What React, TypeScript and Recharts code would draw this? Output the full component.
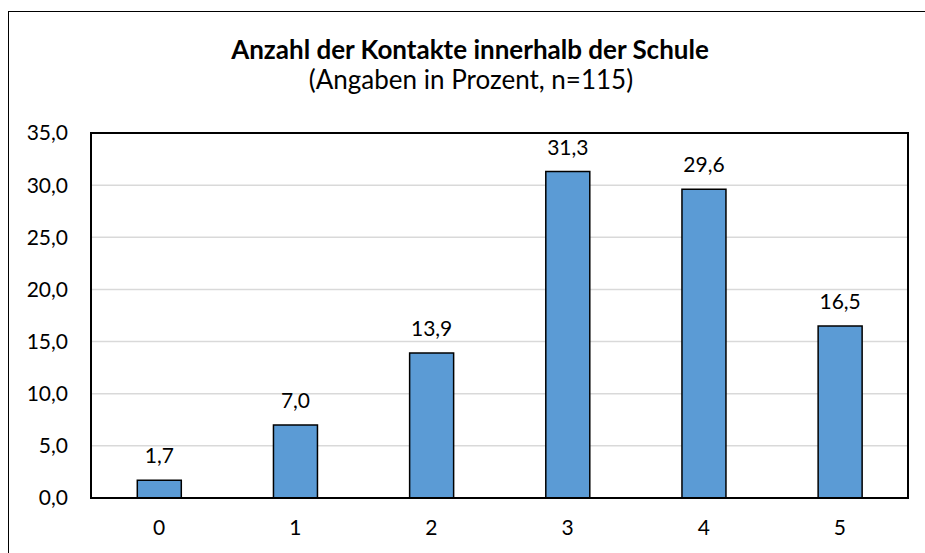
import { Bar, BarChart, CartesianGrid, LabelList, XAxis, YAxis } from 'recharts';

const categories = ['0', '1', '2', '3', '4', '5'];
const shares = [1.7, 7.0, 13.9, 31.3, 29.6, 16.5];
const yTicks = [0, 5, 10, 15, 20, 25, 30, 35];

const data = categories.map((kontakte, i) => ({ kontakte, anteil: shares[i] }));

const FONT = 'Lato, "Open Sans", sans-serif';
const fmt = (v: number) => v.toFixed(1).replace('.', ',');

export default function App() {
  return (
    <div style={{ position: 'absolute', left: 0, top: 0, width: 925, height: 553, overflow: 'hidden', background: '#fff', fontFamily: FONT }}>
      {/* outer chart frame, only left and top edges fall inside the picture */}
      <div
        style={{
          position: 'absolute',
          left: 8,
          top: 11,
          width: 917,
          height: 542,
          borderTop: '1.5px solid #000',
          borderLeft: '1.5px solid #000',
          boxSizing: 'border-box'
        }}
      />
      <div style={{ position: 'absolute', left: 0, width: 940, top: 33, textAlign: 'center', fontSize: 26, fontWeight: 700, color: '#000' }}>
        Anzahl der Kontakte innerhalb der Schule
      </div>
      <div style={{ position: 'absolute', left: 0, width: 942, top: 63, textAlign: 'center', fontSize: 26, color: '#000' }}>
        (Angaben in Prozent, n=115)
      </div>
      <div style={{ position: 'absolute', left: 0, top: 0 }}>
        <BarChart width={925} height={553} data={data} margin={{ top: 133, right: 17, bottom: 25, left: 31 }} barCategoryGap="34%">
          <CartesianGrid vertical={false} stroke="#d9d9d9" strokeWidth={1.5} />
          <XAxis
            dataKey="kontakte"
            height={30}
            axisLine={{ stroke: '#000', strokeWidth: 2 }}
            tickLine={false}
            tickSize={0}
            tickMargin={22}
            tick={{ fill: '#000', fontSize: 21, fontFamily: FONT }}
          />
          <YAxis
            width={60}
            domain={[0, 35]}
            ticks={yTicks}
            tickFormatter={fmt}
            axisLine={{ stroke: '#000', strokeWidth: 2 }}
            tickLine={false}
            tickSize={0}
            tickMargin={23}
            tick={{ fill: '#000', fontSize: 21, fontFamily: FONT }}
          />
          <Bar dataKey="anteil" fill="#5b9bd5" stroke="#000" strokeWidth={1.5} isAnimationActive={false}>
            <LabelList dataKey="anteil" position="top" offset={17} formatter={(v: number) => fmt(v)} style={{ fill: '#000', fontSize: 21, fontFamily: FONT }} />
          </Bar>
        </BarChart>
      </div>
      {/* plot area frame */}
      <div
        style={{
          position: 'absolute',
          left: 90,
          top: 132,
          width: 819,
          height: 367,
          border: '2px solid #000',
          boxSizing: 'border-box',
          pointerEvents: 'none'
        }}
      />
    </div>
  );
}
